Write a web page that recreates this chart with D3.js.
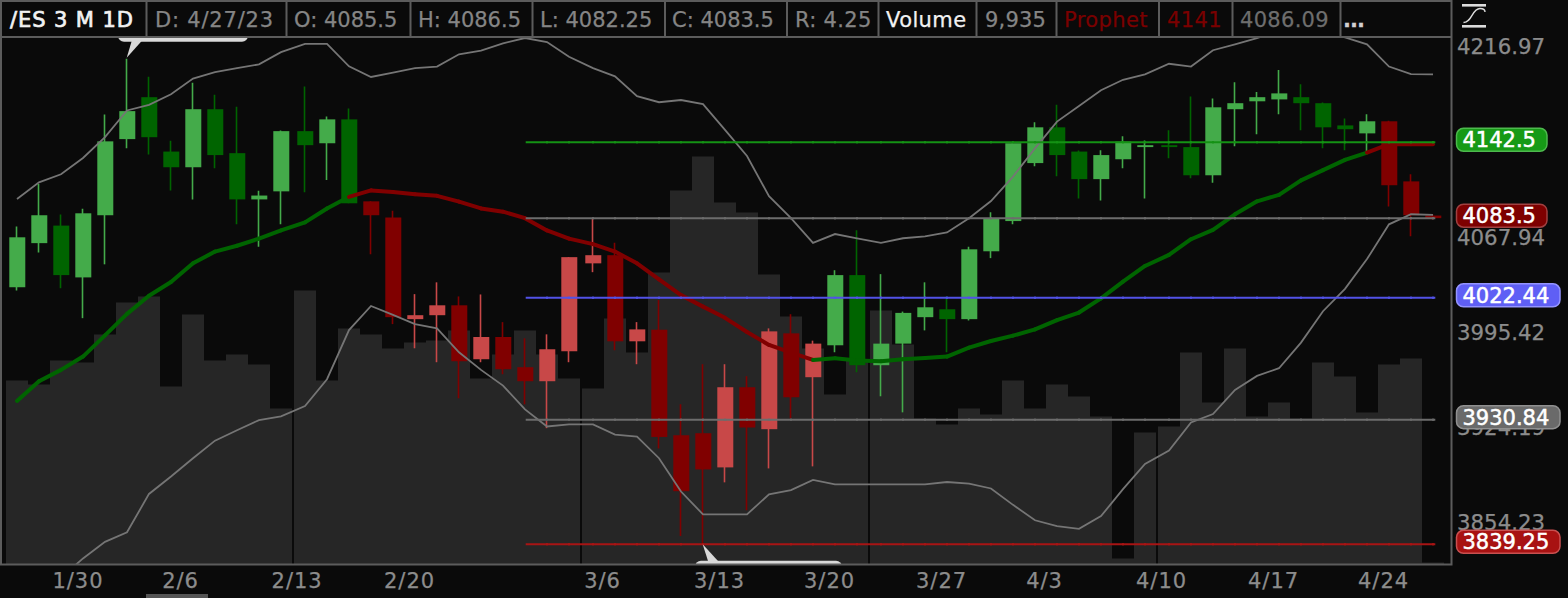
<!DOCTYPE html>
<html>
<head>
<meta charset="utf-8">
<title>/ES 3 M 1D</title>
<script src="https://cdnjs.cloudflare.com/ajax/libs/d3/7.8.5/d3.min.js"></script>
<style>
  html, body { margin: 0; padding: 0; background: #0a0a0a; }
  svg { display: block; }
  text { font-family: "DejaVu Sans", sans-serif; font-size: 21px; }
</style>
</head>
<body>
<div id="chart"></div>
<script>
// candles, oldest first
let open = [4030.5, 4064.25, 4077.75, 4038, 4085.75, 4145, 4178, 4135.25, 4123, 4168.5, 4134, 4098, 4104.25,
  4151.25, 4141.75, 4160.5, 4096.5, 4084, 4006.25, 4009.25, 4016.75, 3976, 3992.75, 3970, 3959.5, 3982,
  4048.75, 4055, 3989.5, 3998.25, 3919.25, 3920.75, 3895.5, 3955, 3923.75, 3995.5, 3962.5, 3986.5, 4039.75,
  3971.5, 3987.75, 4007.75, 4013.75, 4006.25, 4058, 4081.25, 4126.25, 4154.25, 4135.25, 4113.75, 4129.25, 4138.75,
  4140.25, 4138.75, 4116.75, 4168.5, 4174.75, 4176.25, 4178, 4173.25, 4155.75, 4149.5, 4159, 4112, 4085.5];
let high = [4077, 4110, 4086.25, 4090.75, 4164.25, 4208.5, 4194.25, 4143.75, 4189.5, 4180, 4170.5, 4104.75, 4151.75,
  4186.5, 4162.75, 4169, 4096.5, 4089.25, 4025.25, 4034.25, 4023.5, 4025, 4004, 3991.75, 3994.75, 4053.5,
  4083.5, 4064.5, 4004, 4020.75, 3942.25, 3972.25, 3972.25, 3963.25, 3999.25, 4010, 3990, 4043.5, 4074.25,
  4040.5, 4012, 4034.25, 4023.5, 4061.5, 4088, 4141.75, 4158.25, 4172, 4136, 4136.25, 4147.25, 4144,
  4152, 4178.5, 4177, 4189.75, 4182, 4199.5, 4188.25, 4173.75, 4161.25, 4164.5, 4159.5, 4117.5, 4086.5];
let low = [4028, 4057, 4029.75, 4007, 4048, 4137.75, 4133, 4105, 4098, 4122.25, 4078.75, 4061.5, 4078.75,
  4103.5, 4113, 4095, 4055.75, 4002.5, 3984.25, 3973.75, 3946.75, 3973.75, 3964.75, 3942.25, 3924.5, 3973.75,
  4042, 3982.75, 3972.25, 3909.5, 3845.25, 3839.25, 3884.5, 3864, 3894.75, 3931.75, 3896.25, 3981.25, 3966.25,
  3948.25, 3936.25, 3997.75, 3981.25, 4005.25, 4052.75, 4078.75, 4123.75, 4116, 4098.75, 4097.25, 4122.25, 4098.75,
  4130, 4114.5, 4111, 4139.5, 4148.75, 4164.5, 4152, 4137.75, 4136.25, 4135, 4092.5, 4069.5, 4082.25];
let close = [4068.75, 4085.75, 4039.75, 4087.25, 4143.25, 4167, 4146.5, 4123, 4168.5, 4132.5, 4098, 4101, 4151.25,
  4140.25, 4160.5, 4095, 4085.75, 4007.75, 4009.25, 4016.75, 3974.5, 3992.75, 3968.5, 3959.5, 3983.5, 4053.5,
  4055, 3989.5, 3998.5, 3918, 3878, 3894, 3955, 3925, 3997, 3947.5, 3987.75, 4039.75, 3971.5,
  3987.75, 4011, 4015.25, 4006.25, 4059.5, 4083.5, 4141.75, 4154.25, 4132.5, 4113.75, 4132.5, 4143, 4140.25,
  4138.75, 4116.75, 4170, 4173.25, 4178, 4181, 4173.25, 4154.25, 4152.75, 4159, 4109, 4085.75, 4083.5];
// 1 = green (prophet trend up), 0 = red
let trend = [1, 1, 1, 1, 1, 1, 1, 1, 1, 1, 1, 1, 1, 1, 1, 1, 0, 0, 0, 0, 0, 0, 0, 0, 0, 0, 0, 0, 0, 0, 0, 0, 0, 0, 0, 0, 0,
  1, 1, 1, 1, 1, 1, 1, 1, 1, 1, 1, 1, 1, 1, 1, 1, 1, 1, 1, 1, 1, 1, 1, 1, 1, 0, 0, 0];
// volume in thousands of contracts
let volume = [920, 900, 1020, 1010, 1150, 1310, 1340, 890, 1250, 1020, 1050, 1000, 780,
  1370, 920, 1180, 1150, 1080, 1110, 1120, 1170, 930, 1050, 1170, 1050, 930,
  880, 1230, 1060, 1460, 1870, 2040, 1810, 1760, 1450, 1240, 1080, 850, 1020,
  1270, 1100, 730, 700, 780, 750, 920, 780, 900, 840, 740, 30, 660,
  690, 1060, 810, 1080, 740, 810, 730, 1010, 940, 760, 1000, 1030, 9.935];
let prophet = [3944.75, 3959.5, 3968, 3978, 3994, 4010.25, 4024, 4034.5, 4048.75, 4057.75, 4062.25, 4067.75, 4074,
  4080.25, 4091, 4100, 4105, 4103.75, 4102, 4100.75, 4096.25, 4091, 4088.5, 4083.5, 4074, 4067.75,
  4063.5, 4057.75, 4048.75, 4036.5, 4024.5, 4015.75, 4007.25, 3996.5, 3986.75, 3981, 3975.5, 3976.75, 3975,
  3974.5, 3976, 3977, 3978, 3984.75, 3989.75, 3993.75, 3998.5, 4005.5, 4011.25, 4022, 4034.75, 4046.75,
  4055.25, 4067.25, 4074.5, 4086.5, 4096.5, 4101.5, 4112.75, 4120.75, 4128.75, 4134.5, 4141, 4141, 4141];
let bandUpper = [4098.25, 4111.25, 4117.5, 4130.25, 4146.5, 4167.5, 4172, 4180.25, 4192.75, 4197.75, 4201, 4204, 4213.75,
  4220.25, 4220.25, 4202.5, 4194, 4197.5, 4201, 4202.25, 4212, 4215, 4220.75, 4225, 4221.75, 4210,
  4201, 4194.5, 4178.75, 4174, 4175.75, 4172.5, 4152.25, 4131.75, 4100.5, 4083.5, 4064.5, 4071.25, 4068,
  4064.5, 4068, 4069.5, 4072.5, 4083.5, 4096.75, 4115.75, 4137.75, 4158.75, 4171, 4183.5, 4191.75, 4196,
  4204.5, 4202.25, 4215.25, 4220, 4225, 4230.75, 4233, 4230.75, 4225.5, 4220, 4202.25, 4196.25, 4196];
let bandLower = [3795, 3805, 3815, 3829, 3841, 3848, 3876, 3888.75, 3902.25, 3915.25, 3923, 3930.5, 3933.25,
  3941, 3961, 3998, 4016.25, 4009.5, 4002.5, 3999.25, 3981.25, 3968, 3956.25, 3938.5, 3925.75, 3927.25,
  3927.25, 3919.75, 3918.25, 3902.25, 3877.75, 3861, 3861, 3861, 3875.75, 3878.75, 3886.25, 3883, 3883,
  3883, 3883, 3883, 3884.75, 3883.5, 3880, 3868, 3856.75, 3852.5, 3850.5, 3859.75, 3879.5, 3898,
  3908, 3928.75, 3935, 3953, 3963.5, 3969.25, 3988.5, 4012.25, 4029.25, 4052, 4078.75, 4086.5, 4086.09];

let levelValues = [4142.5, 4083.44, 4022.44, 3930.84, 3839.25];
let levelColors = ['#149214', '#6c6c6c', '#5252e6', '#6c6c6c', '#a81414'];

let priceTicks = [4216.97, 4067.94, 3995.42, 3924.19, 3854.23];

let bubbleValues = [4142.5, 4083.5, 4022.44, 3930.84, 3839.25];
let bubbleLabels = ['4142.5', '4083.5', '4022.44', '3930.84', '3839.25'];
let bubbleFills = ['#169a16', '#7e0000', '#5f5ff5', '#6a6a6a', '#a81212'];
let bubbleStrokes = ['#4db84d', '#a04040', '#9494ff', '#909090', '#c85050'];

// date labels do not sit on their bars, positions are in bar units
let dateTicks = [2.75, 7.41, 12.65, 17.73, 26.41, 31.73, 36.73, 41.73, 46.41, 51.67, 56.73, 61.73];
let dateLabels = ['1/30', '2/6', '2/13', '2/20', '3/6', '3/13', '3/20', '3/27', '4/3', '4/10', '4/17', '4/24'];

// every 13 bars the chart leaves a 2px dark gap
let gapPositions = [12.5, 25.5, 38.5, 51.5];

let headerLabels = ['/ES 3 M 1D', 'D: 4/27/23', 'O: 4085.5', 'H: 4086.5', 'L: 4082.25', 'C: 4083.5', 'R: 4.25',
  'Volume', '9,935', 'Prophet', '4141', '4086.09', '...'];
let headerColors = ['#f2f2f2', '#858585', '#858585', '#858585', '#858585', '#858585', '#858585',
  '#f2f2f2', '#858585', '#7a0000', '#7a0000', '#6e6e6e', '#d0d0d0'];
let headerStarts = [10, 155, 294, 418, 540, 672, 795, 886, 985, 1064, 1167, 1240, 1343];
let headerSpacing = [0.9, 0.8, 0, 0, 0, 0, 0.3, 0.4, 0.2, 0.4, 0.4, 0.3, -1];
let headerDividers = [146.5, 286.5, 410.5, 532.5, 665, 787, 878.5, 976.5, 1056.5, 1159, 1232.5, 1340.5];

const width = 1568,
  height = 598,
  margin = { top: 37, right: 1451, bottom: 564.5, left: 2 };

const svg = d3.select('#chart').append('svg').attr('width', width).attr('height', height);

svg.append('rect').attr('width', width).attr('height', height).attr('fill', '#0a0a0a');

let x = d3
  .scaleLinear()
  .domain([0, 12, 13, 25, 26, 38, 39, 51, 52, 64])
  .range([17, 281, 305, 569, 593, 857, 881, 1145, 1169, 1433]);

let y = d3
  .scaleLog()
  .domain([4142.5, 3839.25])
  .range([142.3, 544.3]);

let yVolume = d3.scaleLinear().domain([0, 2500]).range([564.5, 64.5]);

svg
  .append('defs')
  .append('clipPath')
  .attr('id', 'plot')
  .append('rect')
  .attr('x', margin.left)
  .attr('y', margin.top)
  .attr('width', margin.right - margin.left)
  .attr('height', margin.bottom - margin.top);

const plot = svg.append('g').attr('clip-path', 'url(#plot)');

let bars = d3.range(open.length);

// volume
plot
  .append('g')
  .selectAll('rect')
  .data(bars)
  .join('rect')
  .attr('x', (i) => x(i) - 11)
  .attr('y', (i) => yVolume(volume[i]))
  .attr('width', 22)
  .attr('height', (i) => yVolume(0) - yVolume(volume[i]))
  .attr('fill', '#262626');

// month gaps
plot
  .append('g')
  .selectAll('line')
  .data(gapPositions)
  .join('line')
  .attr('x1', (d) => x(d))
  .attr('x2', (d) => x(d))
  .attr('y1', margin.top)
  .attr('y2', margin.bottom)
  .attr('stroke', '#0a0a0a')
  .attr('stroke-width', 2);

let candleColor = (i) => {
  if (trend[i]) return close[i] >= open[i] ? '#44ab4a' : '#006400';
  return close[i] >= open[i] ? '#c84848' : '#800000';
};

// candles
const candles = plot.append('g').selectAll('g').data(bars).join('g');

candles
  .append('line')
  .attr('x1', (i) => x(i) - 0.5)
  .attr('x2', (i) => x(i) - 0.5)
  .attr('y1', (i) => y(high[i]))
  .attr('y2', (i) => y(low[i]))
  .attr('stroke', candleColor)
  .attr('stroke-width', 1.6);

candles
  .append('rect')
  .attr('x', (i) => x(i) - 7.7)
  .attr('y', (i) => y(Math.max(open[i], close[i])))
  .attr('width', 16)
  .attr('height', (i) => Math.abs(y(open[i]) - y(close[i])) || 1)
  .attr('fill', candleColor);

// bands
let bandLine = (values) =>
  d3
    .line()
    .x((i) => x(i))
    .y((i) => y(values[i]))(bars);

plot
  .selectAll('.band')
  .data([bandUpper, bandLower])
  .join('path')
  .attr('class', 'band')
  .attr('d', bandLine)
  .attr('fill', 'none')
  .attr('stroke', '#757575')
  .attr('stroke-width', 1.8);

// prophet line, one segment per bar so it can change color
plot
  .append('g')
  .selectAll('line')
  .data(bars.slice(1))
  .join('line')
  .attr('x1', (i) => x(i - 1))
  .attr('y1', (i) => y(prophet[i - 1]))
  .attr('x2', (i) => x(i))
  .attr('y2', (i) => y(prophet[i]))
  .attr('stroke', (i) => (trend[i] ? '#006400' : '#800000'))
  .attr('stroke-width', 4)
  .attr('stroke-linecap', 'round');

// horizontal levels
const levels = plot.append('g').selectAll('g').data(levelValues).join('g');

levels
  .append('line')
  .attr('x1', x(23) + 0.7)
  .attr('x2', x(64) + 2.3)
  .attr('y1', (d) => y(d))
  .attr('y2', (d) => y(d))
  .attr('stroke', (d, i) => levelColors[i])
  .attr('stroke-width', 2);

// the levels are drawn bar by bar, small bumps show at each bar
levels.each(function (d, n) {
  d3.select(this)
    .selectAll('circle')
    .data(bars.slice(24))
    .join('circle')
    .attr('cx', (i) => x(i))
    .attr('cy', y(d))
    .attr('r', 1.2)
    .attr('fill', levelColors[n]);
});

// high and low callouts hang off the extreme bars
let highBar = high.indexOf(d3.max(high.slice(0, 30)));
let lowBar = low.indexOf(d3.min(low));

plot
  .append('rect')
  .attr('x', 118)
  .attr('y', 20)
  .attr('width', 130)
  .attr('height', 21.7)
  .attr('rx', 6)
  .attr('fill', '#d9d9d9');
plot
  .append('path')
  .attr('d', `M${x(highBar) - 0.3},${y(high[highBar]) - 1}L${x(highBar) + 4.7},41L${x(highBar) + 14.7},41Z`)
  .attr('fill', '#d9d9d9');
plot
  .append('rect')
  .attr('x', 695)
  .attr('y', 560.7)
  .attr('width', 147)
  .attr('height', 20)
  .attr('rx', 6)
  .attr('fill', '#d9d9d9');
plot
  .append('path')
  .attr('d', `M${x(lowBar) - 0.3},${y(low[lowBar])}L${x(lowBar) + 15},561L${x(lowBar) + 5},561Z`)
  .attr('fill', '#d9d9d9');

// frame
const frame = svg.append('g').attr('fill', 'none').attr('stroke', '#5c5c5c').attr('stroke-width', 2);
frame.append('rect').attr('x', 1).attr('y', 1).attr('width', 1450.5).attr('height', 563.5);
frame.append('line').attr('x1', 1).attr('x2', 1451).attr('y1', 37).attr('y2', 37);
frame
  .selectAll('.divider')
  .data(headerDividers)
  .join('line')
  .attr('class', 'divider')
  .attr('x1', (d) => d)
  .attr('x2', (d) => d)
  .attr('y1', 1)
  .attr('y2', 37);

// header readout
svg
  .append('g')
  .selectAll('text')
  .data(headerLabels)
  .join('text')
  .attr('x', (d, i) => headerStarts[i])
  .attr('y', 26.5)
  .attr('fill', (d, i) => headerColors[i])
  .attr('stroke', (d, i) => headerColors[i])
  .attr('stroke-width', (d, i) => (i === 0 ? 0.7 : 0.25))
  .style('font-weight', (d) => (d === '...' ? 'bold' : 'normal'))
  .style('letter-spacing', (d, i) => headerSpacing[i] + 'px')
  .text((d) => d);

// date axis
svg
  .append('g')
  .attr('transform', `translate(0,${margin.bottom})`)
  .call(
    d3
      .axisBottom(x)
      .tickValues(dateTicks)
      .tickFormat((d, i) => dateLabels[i])
      .tickSize(0)
  )
  .call((g) => g.select('.domain').remove())
  .call((g) =>
    g
      .selectAll('text')
      .attr('y', 9)
      .attr('dy', '0.71em')
      .attr('fill', '#8c8c8c')
      .attr('stroke', '#8c8c8c')
      .attr('stroke-width', 0.25)
      .style('font-size', '21px')
      .style('font-family', '"DejaVu Sans", sans-serif')
      .style('letter-spacing', '1px')
  );

// scroll marker under the date axis
svg.append('rect').attr('x', 146).attr('y', 594).attr('width', 62).attr('height', 4).attr('fill', '#555555');

// price axis
svg
  .append('g')
  .attr('transform', 'translate(1457,-1)')
  .call(
    d3
      .axisRight(y)
      .tickValues(priceTicks)
      .tickFormat((d) => d3.format('.2f')(d))
      .tickSize(0)
      .tickPadding(0)
  )
  .call((g) => g.select('.domain').remove())
  .call((g) =>
    g
      .selectAll('text')
      .attr('fill', '#8c8c8c')
      .attr('stroke', '#8c8c8c')
      .attr('stroke-width', 0.25)
      .style('font-size', '21.3px')
      .style('font-family', '"DejaVu Sans", sans-serif')
  );

// price bubbles
const bubbles = svg.append('g').selectAll('g').data(bubbleValues).join('g');

bubbles
  .append('rect')
  .attr('x', 1456.5)
  .attr('y', (d) => y(d) - 14)
  .attr('width', (d, i) => (bubbleLabels[i].length > 6 ? 103.5 : 90.5))
  .attr('height', 23)
  .attr('rx', 7)
  .attr('fill', (d, i) => bubbleFills[i])
  .attr('stroke', (d, i) => bubbleStrokes[i])
  .attr('stroke-width', 1.5);

bubbles
  .append('text')
  .attr('x', 1462.5)
  .attr('y', (d) => y(d) + 5)
  .attr('fill', '#ffffff')
  .attr('stroke', '#ffffff')
  .attr('stroke-width', 0.5)
  .text((d, i) => bubbleLabels[i]);

// study icon in the corner
const icon = svg.append('g').attr('fill', '#dcdcdc');
icon.append('rect').attr('x', 1462).attr('y', 4).attr('width', 24).attr('height', 2.6);
icon.append('rect').attr('x', 1462).attr('y', 25).attr('width', 24).attr('height', 2.6);
icon
  .append('path')
  .attr('d', 'M1463.5,22.5C1472,22.5 1472,8.5 1480,8.5C1483,8.5 1485,9 1485,12')
  .attr('fill', 'none')
  .attr('stroke', '#dcdcdc')
  .attr('stroke-width', 1.4);
</script>
</body>
</html>
